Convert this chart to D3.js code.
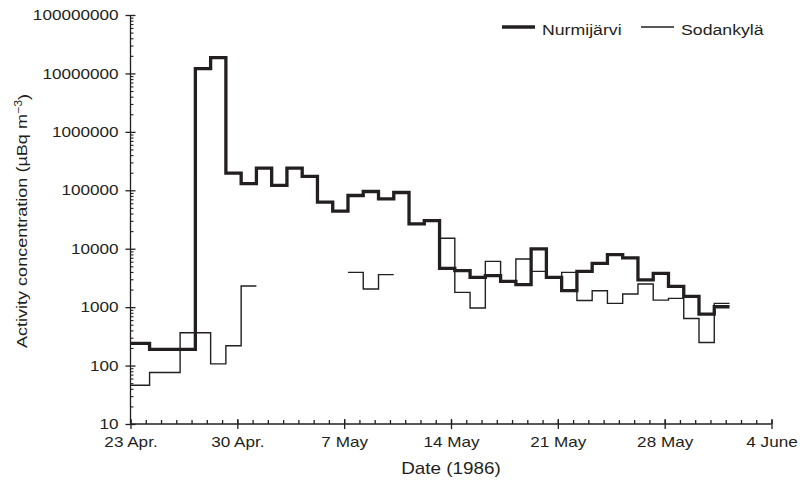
<!DOCTYPE html>
<html>
<head>
<meta charset="utf-8">
<script src="https://cdn.jsdelivr.net/npm/d3@7"></script>
<style>
  body { margin: 0; background: #fff; }
  text { font-family: "Liberation Sans", Arial, Helvetica, sans-serif; fill: #231f20; }
</style>
</head>
<body>
<svg id="chart" width="800" height="485"></svg>
<script>
// sampling periods (start of each period), last one ends at sampleEnd
const sampleStart = [
  "1986-04-23T00:00", "1986-04-24T06:00", "1986-04-25T06:00", "1986-04-26T06:00",
  "1986-04-27T06:00", "1986-04-28T06:00", "1986-04-29T06:00", "1986-04-30T06:00",
  "1986-05-01T06:00", "1986-05-02T06:00", "1986-05-03T06:00", "1986-05-04T06:00",
  "1986-05-05T06:00", "1986-05-06T06:00", "1986-05-07T06:00", "1986-05-08T06:00",
  "1986-05-09T06:00", "1986-05-10T06:00", "1986-05-11T06:00", "1986-05-12T06:00",
  "1986-05-13T06:00", "1986-05-14T06:00", "1986-05-15T06:00", "1986-05-16T06:00",
  "1986-05-17T06:00", "1986-05-18T06:00", "1986-05-19T06:00", "1986-05-20T06:00",
  "1986-05-21T06:00", "1986-05-22T06:00", "1986-05-23T06:00", "1986-05-24T06:00",
  "1986-05-25T06:00", "1986-05-26T06:00", "1986-05-27T06:00", "1986-05-28T06:00",
  "1986-05-29T06:00", "1986-05-30T06:00", "1986-05-31T06:00"
];
const sampleEnd = "1986-06-01T06:00";

// µBq m-3
const nurmijarvi = [
  240, 190, 190, 190, 12100000, 18700000, 196000, 130000,
  239000, 121000, 239000, 173000, 62600, 43900, 81500, 95400,
  71500, 91600, 26600, 30300, 4610, 4210, 3240, 3460,
  2760, 2420, 9910, 3240, 1910, 4090, 5620, 7920,
  6950, 2920, 3790, 2270, 1530, 762, 1016
];
const sodankyla = [
  46, 76, 76, 365, 365, 107, 218, 2300,
  null, null, null, null, null, null, 3940, 2040,
  3600, null, null, null, 15100, 1790, 964, 6080,
  2650, 6680, 4090, 3320, 3940, 1300, 1910, 1160,
  1680, 2490, 1320, 1410, 640, 248, 1160
];

const xTickDates = ["1986-04-23", "1986-04-30", "1986-05-07", "1986-05-14", "1986-05-21", "1986-05-28", "1986-06-04"];
const xTickLabels = ["23 Apr.", "30 Apr.", "7 May", "14 May", "21 May", "28 May", "4 June"];
const yTicks = [10, 100, 1000, 10000, 100000, 1000000, 10000000, 100000000];
const seriesNames = ["Nurmijärvi", "Sodankylä"];

const svg = d3.select("svg#chart");
const ink = "#231f20";
const wide = 1.18; // the reference lettering is a little wider than Liberation Sans
const parseT = d3.timeParse("%Y-%m-%dT%H:%M");
const parseD = d3.timeParse("%Y-%m-%d");

const x = d3.scaleTime()
    .domain([parseD(xTickDates[0]), parseD(xTickDates[xTickDates.length - 1])])
    .range([130.5, 771.5]);
const y = d3.scaleLog().domain([10, 100000000]).range([424, 15]);

const starts = sampleStart.map(parseT);
const ends = starts.slice(1).concat([parseT(sampleEnd)]);

function stepPoints(vals) {
  let pts = [];
  vals.forEach(function(v, i) {
    pts.push({t: starts[i], v: v});
    pts.push({t: ends[i], v: v});
  });
  return pts;
}

function stretch(sel) {
  sel.each(function() {
    const w = this.getComputedTextLength();
    this.setAttribute("textLength", w * wide);
    this.setAttribute("lengthAdjust", "spacingAndGlyphs");
  });
}

const line = d3.line()
    .defined(d => d.v != null)
    .x(d => x(d.t))
    .y(d => y(d.v));

// axes
const gx = svg.append("g").attr("transform", "translate(0,424)");
// minor daily ticks (upwards)
gx.append("g")
    .call(d3.axisTop(x).ticks(d3.timeDay.every(1)).tickSize(4).tickFormat(""))
    .call(g => g.select(".domain").remove())
    .call(g => g.selectAll("line").attr("stroke", ink).attr("stroke-width", 1.3));
gx.append("g")
    .call(d3.axisBottom(x).tickValues(xTickDates.map(parseD)).tickSize(5)
      .tickFormat((d, i) => xTickLabels[i]))
    .call(g => g.select(".domain").attr("stroke", ink).attr("stroke-width", 1.3).attr("d", "M130.5,0H771.5"))
    .call(g => g.selectAll(".tick line").attr("stroke", ink).attr("stroke-width", 1.3).attr("y1", -5))
    .call(g => g.selectAll(".tick text").attr("font-size", 14.5).attr("fill", ink)
      .attr("y", 23).attr("dy", null).call(stretch));

const gy = svg.append("g").attr("transform", "translate(130.5,0)");
gy.append("g")
    .call(d3.axisRight(y).tickValues(y.ticks().filter(d => yTicks.indexOf(d) < 0)).tickSize(3).tickFormat(""))
    .call(g => g.select(".domain").remove())
    .call(g => g.selectAll("line").attr("stroke", ink).attr("stroke-width", 1.1));
gy.append("g")
    .call(d3.axisLeft(y).tickValues(yTicks).tickSize(5).tickPadding(7).tickFormat(d3.format("d")))
    .call(g => g.select(".domain").attr("stroke", ink).attr("stroke-width", 1.3).attr("d", "M0,15V424"))
    .call(g => g.selectAll(".tick line").attr("stroke", ink).attr("stroke-width", 1.3).attr("x1", 5))
    .call(g => g.selectAll(".tick text").attr("font-size", 14.5).attr("fill", ink).call(stretch));

// axis titles
svg.append("text")
    .attr("transform", "translate(451,474) scale(" + wide + ",1)")
    .attr("text-anchor", "middle").attr("font-size", 16)
    .text("Date (1986)");

const yt = svg.append("text")
    .attr("transform", "translate(27,221) rotate(-90) scale(" + wide + ",1)")
    .attr("text-anchor", "middle").attr("font-size", 15.3);
yt.append("tspan").text("Activity concentration (µBq m");
yt.append("tspan").attr("dy", "-0.45em").attr("font-size", 10.5).text("−3");
yt.append("tspan").attr("dy", "0.45em").text(")");

// series
svg.append("path")
    .attr("d", line(stepPoints(sodankyla)))
    .attr("fill", "none").attr("stroke", ink).attr("stroke-width", 1.4)
    .attr("stroke-linejoin", "miter");
svg.append("path")
    .attr("d", line(stepPoints(nurmijarvi)))
    .attr("fill", "none").attr("stroke", ink).attr("stroke-width", 3.3)
    .attr("stroke-linejoin", "miter");

// legend
const legend = svg.append("g");
const lx = [502, 641];
const lw = [3.3, 1.4];
seriesNames.forEach(function(name, i) {
  legend.append("line")
      .attr("x1", lx[i]).attr("x2", lx[i] + 33)
      .attr("y1", 27).attr("y2", 27)
      .attr("stroke", ink).attr("stroke-width", lw[i]);
  legend.append("text")
      .attr("transform", "translate(" + (lx[i] + 40) + ",35) scale(" + wide + ",1)")
      .attr("font-size", 15)
      .text(name);
});
</script>
</body>
</html>
